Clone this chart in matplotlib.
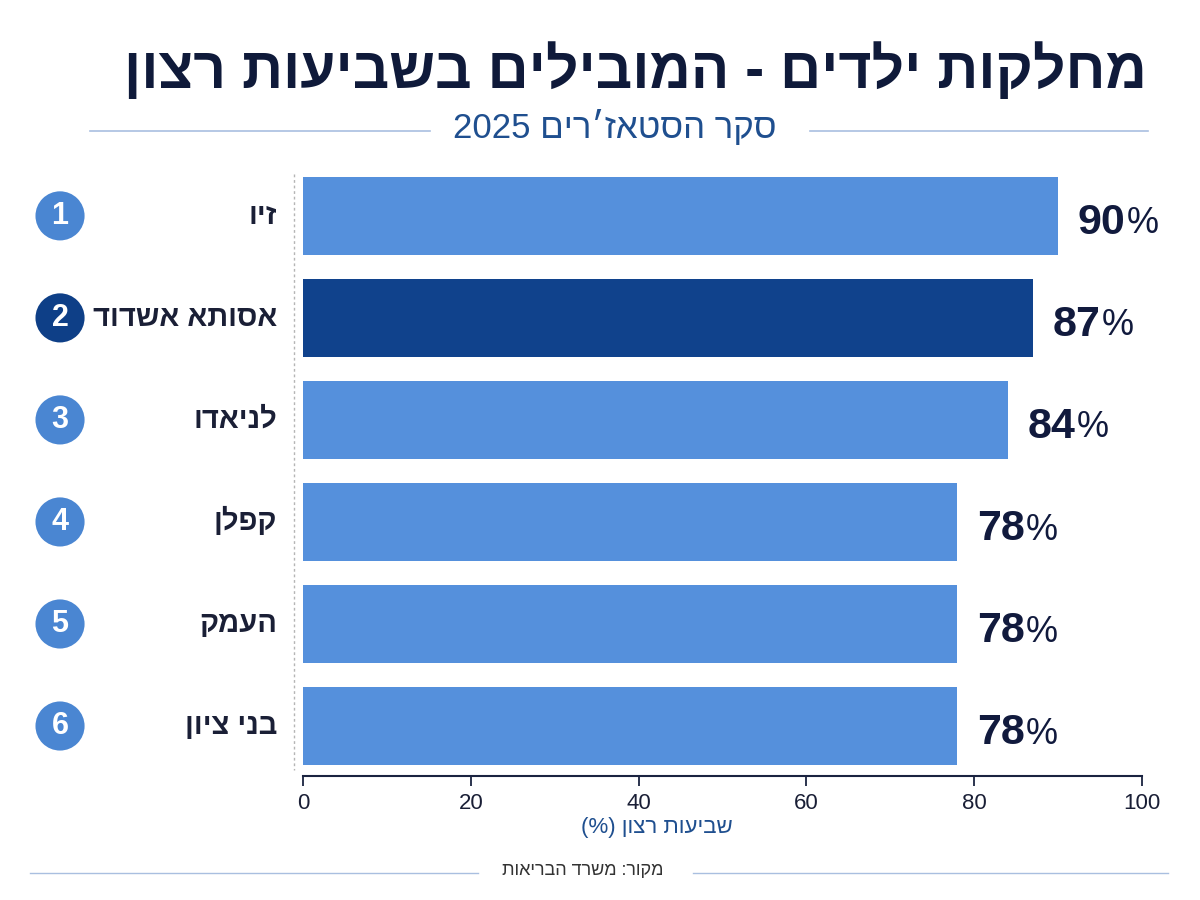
import matplotlib
matplotlib.use("Agg")
import matplotlib.pyplot as plt
from matplotlib.lines import Line2D

# ---- data ----
hospitals = ["זיו", "אסותא אשדוד", "לניאדו", "קפלן", "העמק", "בני ציון"]
satisfaction = [90, 87, 84, 78, 78, 78]
ranks = [1, 2, 3, 4, 5, 6]
highlight = "אסותא אשדוד"
x_ticks = [0, 20, 40, 60, 80, 100]
title = "מחלקות ילדים - המובילים בשביעות רצון"
subtitle_text = "סקר הסטאז׳רים"
subtitle_year = "2025"
x_label_text = "שביעות רצון"
source = "מקור: משרד הבריאות"


def vis(s):
    """Hebrew logical -> visual order (pure RTL strings)."""
    return s[::-1]


FAM = ["Liberation Sans Narrow", "Liberation Sans", "DejaVu Sans"]
plt.rcParams["font.family"] = FAM

LIGHT = "#5590dc"
DARK = "#10428c"
CIRC_LIGHT = "#4a86d2"
CIRC_DARK = "#0e3f87"
NAVY = "#111a3d"
TXT = "#1a1f36"
SUB = "#1f4f8f"
RULE = "#a9bfe0"

W, H = 1200, 900
fig = plt.figure(figsize=(12, 9), dpi=100)
fig.patch.set_facecolor("white")

ax = fig.add_axes([303 / W, 1 - 776 / H, 839 / W, 604 / H])
y = list(range(len(hospitals)))
colors = [DARK if h == highlight else LIGHT for h in hospitals]
ax.barh(y, satisfaction, height=0.76, color=colors, zorder=2)
ax.set_xlim(0, 100)
ax.set_ylim(5.49, -0.43)

for s in ["left", "top", "right"]:
    ax.spines[s].set_visible(False)
ax.spines["bottom"].set_color("#1a2340")
ax.spines["bottom"].set_linewidth(1.5)
ax.set_yticks([])
ax.set_xticks(x_ticks)
ax.set_xticklabels([str(t) for t in x_ticks])
ax.tick_params(axis="x", direction="out", length=7, width=1.3, color="#1a2340",
               pad=5, labelsize=16, labelcolor=TXT)

# dotted guide line left of bars
ax.add_line(Line2D([-1.07, -1.07], [-0.41, 5.43], color="#b5b5b5", lw=1,
                   linestyle=(0, (2, 2)), clip_on=False))

# category labels, rank circles, value labels
for i, (name, v, r) in enumerate(zip(hospitals, satisfaction, ranks)):
    ax.text(-3.1, i, vis(name), ha="right", va="center", fontsize=21,
            fontweight="bold", color=TXT, clip_on=False)
    cc = CIRC_DARK if name == highlight else CIRC_LIGHT
    ax.scatter([-28.96], [i], s=1250, color=cc, clip_on=False, zorder=3,
               edgecolors="none")
    ax.text(-28.96, i, str(r), ha="center", va="center", fontsize=22,
            fontweight="bold", color="white", clip_on=False, zorder=4)
    t = ax.annotate(str(v), xy=(v, i), xytext=(14, -5), textcoords="offset points",
                    ha="left", va="center", fontsize=31, fontweight="bold",
                    color=NAVY, annotation_clip=False)
    ax.annotate("%", xy=(1, 0), xycoords=t, xytext=(1, 1),
                textcoords="offset points", ha="left", va="bottom",
                fontsize=26, color=NAVY, annotation_clip=False)

# x label
fig.text(657 / W, 1 - 828 / H, "(%) " + vis(x_label_text), ha="center",
         va="center", fontsize=16, color=SUB)

# title
fig.text(635 / W, 1 - 88 / H, vis(title), ha="center", va="baseline",
         fontsize=41, fontweight="bold", color="#0f1a3a")

# subtitle with side rules
fig.text(615 / W, 1 - 127 / H, subtitle_year + " " + vis(subtitle_text),
         ha="center", va="center", fontsize=25, color=SUB)
fig.add_artist(Line2D([90 / W, 430 / W], [1 - 131 / H] * 2, color=RULE, lw=1.2))
fig.add_artist(Line2D([810 / W, 1148 / W], [1 - 131 / H] * 2, color=RULE, lw=1.2))

# footer
fig.text(583 / W, 1 - 871 / H, vis(source), ha="center", va="center",
         fontsize=13, color="#333333")
fig.add_artist(Line2D([30 / W, 478 / W], [1 - 873 / H] * 2, color=RULE, lw=1.0))
fig.add_artist(Line2D([693 / W, 1168 / W], [1 - 873 / H] * 2, color=RULE, lw=1.0))

fig.savefig("out.png", dpi=100, facecolor="white")
